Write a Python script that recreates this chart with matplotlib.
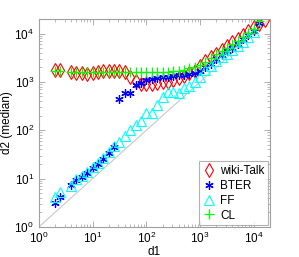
import matplotlib
matplotlib.use('Agg')
from matplotlib import pyplot as plt

plt.rcParams['font.family'] = ['Liberation Sans', 'DejaVu Sans']
plt.rcParams['mathtext.fontset'] = 'custom'
plt.rcParams['mathtext.rm'] = 'Liberation Sans'
plt.rcParams['mathtext.it'] = 'Liberation Sans'

# log-binned degree d1 (shared by all series)
d1 = [2, 2.5, 4, 5, 6.3, 7.9, 10, 12.6, 15.8, 20, 25, 31.6, 39.8, 50, 63, 79,
      100, 126, 158, 200, 251, 316, 398, 501, 631, 794, 1000, 1259, 1585, 1995,
      2512, 3162, 3981, 5012, 6310, 7943, 10000, 12589, 15849]

wiki = [1730, 1730, 1570, 1500, 1500, 1430, 1500, 1570, 1650, 1650, 1650, 1650, 1570,
        1240, 1020, 890, 890, 890, 930, 980, 980, 1070, 1180, 1300, 1500, 1650, 2090,
        2650, 3200, 3870, 4680, 5660, 6840, 7890, 9530, 11530, 13940, 16070, 19440]

bter = [3.1, 4.2, 7.3, 9.3, 10.7, 13, 16.5, 19.9, 25.2, 33.6, 45, 436, 580, 580, 847,
        931, 1074, 1127, 1180, 1240, 1240, 1300, 1360, 1360, 1430, 1500, 1650, 1990,
        2400, 2910, 3520, 4260, 5140, 6220, 7890, 9530, 11530, 16860]

ff = [4.2, 5.3, 7.0, 9.8, 11.3, 13.6, 17.3, 20.9, 26.5, 35.2, 47, 57, 75, 100, 127,
      153, 224, 224, 328, 479, 608, 608, 579, 735, 808, 977, 1238, 1726, 2090, 2650,
      3200, 3870, 4680, 5660, 6840, 8670, 11000]

cl = [1645, 1645, 1570, 1570, 1570, 1570, 1570, 1570, 1570, 1570, 1570, 1570, 1570,
      1570, 1570, 1570, 1570, 1570, 1570, 1570, 1570, 1645, 1645, 1726, 1897, 1990,
      2190, 2525, 3050, 3690, 4260, 5140, 6220, 7180, 8670, 10490, 12680, 18540]

fig = plt.figure(figsize=(2.99, 2.57), dpi=100)
ax = fig.add_axes([0.130, 0.117, 0.773, 0.809])

ax.plot([1, 2e4], [1, 2e4], color='#c8c8c8', linewidth=0.8)
ax.plot(d1, wiki, linestyle='none', marker='d', markersize=7.5, markerfacecolor='none',
        markeredgecolor='#ff0000', markeredgewidth=0.8, label='wiki-Talk')
ax.plot(d1[:len(bter)], bter, linestyle='none', marker=(6, 2, 0), markersize=6,
        color='#0000ff', markeredgewidth=0.9, label='BTER')
ax.plot(d1[:len(ff)], ff, linestyle='none', marker='^', markersize=6.5, markerfacecolor='none',
        markeredgecolor='#00ffff', markeredgewidth=0.8, label='FF')
ax.plot(d1[:len(cl)], cl, linestyle='none', marker='+', markersize=6.5,
        color='#00ff00', markeredgewidth=0.9, label='CL')

ax.set_xscale('log')
ax.set_yscale('log')
ax.set_xlim(1, 2e4)
ax.set_ylim(1, 2e4)
ax.set_xlabel('d1', fontsize=8.5, labelpad=0)
ax.set_ylabel('d2 (median)', fontsize=8.5, labelpad=1)

for s in ax.spines.values():
    s.set_color('#a0a0a0')
    s.set_linewidth(0.8)
ax.tick_params(which='both', direction='in', top=True, right=True, colors='#a0a0a0',
               labelcolor='black', labelsize=8.5)
ax.tick_params(axis='x', pad=2.5)
ax.tick_params(axis='y', pad=3.5)
ax.tick_params(which='major', length=4, width=0.6)
ax.tick_params(which='minor', length=2, width=0.5)

leg = ax.legend(loc='lower right', fontsize=8.5, fancybox=False, handlelength=1.0,
                handletextpad=0.5, borderpad=0.3, labelspacing=0.25, borderaxespad=0.15)
leg.get_frame().set_edgecolor('#a0a0a0')
leg.get_frame().set_linewidth(0.8)

plt.savefig('out.png', dpi=100)
